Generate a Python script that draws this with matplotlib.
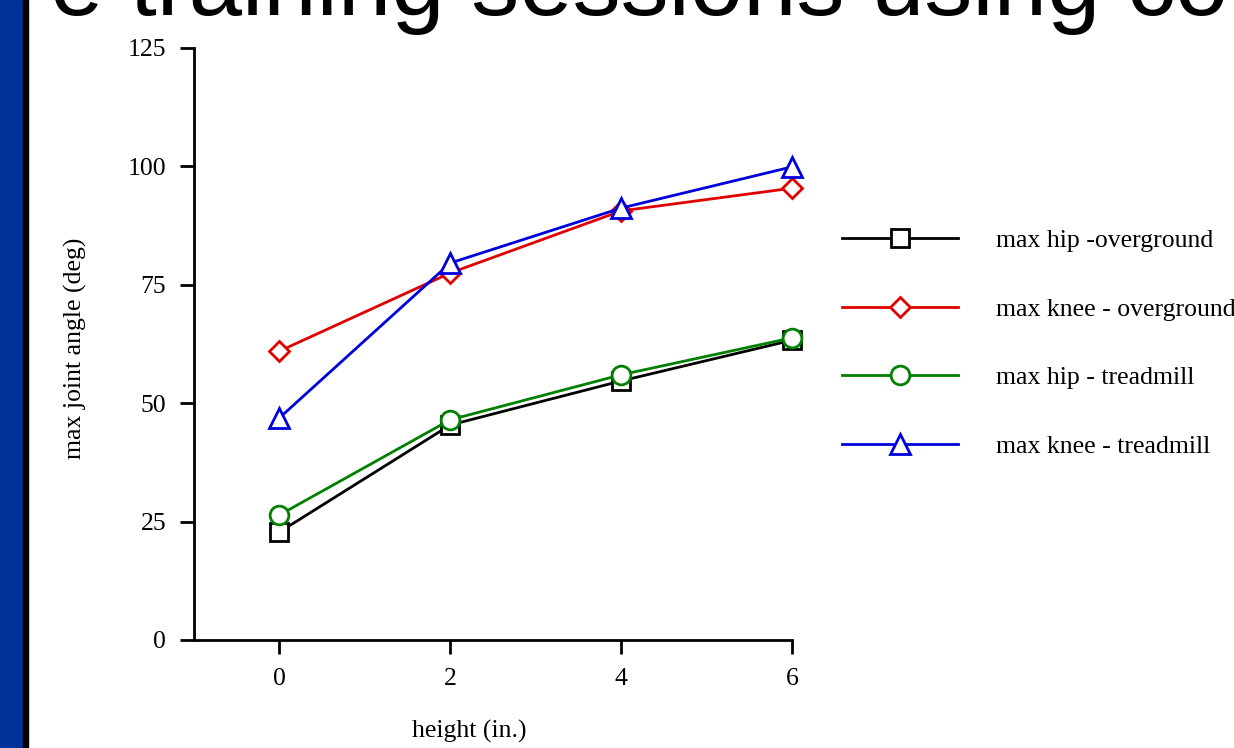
import matplotlib
matplotlib.use("Agg")
import matplotlib.pyplot as plt
from matplotlib.patches import Rectangle

heights = [0, 2, 4, 6]
hip_over = [22.8, 45.4, 54.7, 63.3]
knee_over = [61.0, 77.5, 90.6, 95.4]
hip_tread = [26.4, 46.5, 56.0, 63.8]
knee_tread = [46.9, 79.6, 91.2, 99.9]
labels = ["max hip -overground", "max knee - overground", "max hip - treadmill", "max knee - treadmill"]
yticks = [0, 25, 50, 75, 100, 125]
xticks = [0, 2, 4, 6]

W, H = 1234, 748
fig = plt.figure(figsize=(W / 100, H / 100), dpi=100)
fig.patch.set_facecolor("white")

# left decoration bar
fig.add_artist(Rectangle((0, 0), 23 / W, 1, transform=fig.transFigure, color="#003399", zorder=0))
fig.add_artist(Rectangle((23 / W, 0), 5 / W, 1, transform=fig.transFigure, color="black", zorder=0))

# cut-off title
fig.text(50 / W, 1 - 15 / H, "e training sessions using con", fontsize=69, family="Liberation Sans",
         va="baseline", ha="left")

ax = fig.add_axes([194 / W, 1 - 640 / H, (792 - 194) / W, (640 - 48) / H])
serif = "Liberation Serif"
fs = 18.5

series = [
    (hip_over, "black", "s", 13.5),
    (knee_over, "#e00000", "D", 10.5),
    (hip_tread, "#008000", "o", 13.5),
    (knee_tread, "#0000dd", "^", 14),
]
handles = []
for (vals, col, mk, ms), lab in zip(series, labels):
    h, = ax.plot(heights, vals, color=col, lw=2.0, marker=mk, ms=ms, mfc="white", mec=col, mew=2.0,
                 label=lab, clip_on=False, zorder=3)
    handles.append(h)

ax.set_xlim(-1, 6)
ax.set_ylim(0, 125)
ax.set_xticks(xticks)
ax.set_yticks(yticks)
for s in ["top", "right"]:
    ax.spines[s].set_visible(False)
for s in ["left", "bottom"]:
    ax.spines[s].set_linewidth(2)
ax.tick_params(axis="y", direction="out", length=10, width=2, labelsize=fs, pad=10)
ax.tick_params(axis="x", direction="out", length=10, width=2, labelsize=fs, pad=10)
for t in ax.get_xticklabels() + ax.get_yticklabels():
    t.set_family(serif)

fig.text(75 / W, 1 - 348 / H, "max joint angle (deg)", rotation=90, ha="center", va="center",
         fontsize=fs, family=serif)
fig.text(469 / W, 1 - 731 / H, "height (in.)", ha="center", va="center", fontsize=fs, family=serif)

leg = fig.legend(handles=handles, labels=labels, loc="upper left", bbox_to_anchor=(842 / W, 1 - 229 / H),
                 frameon=False, prop={"family": serif, "size": fs}, handlelength=4.5,
                 handletextpad=1.5, labelspacing=1.78, borderaxespad=0, borderpad=0)

fig.savefig("out.png", dpi=100)
